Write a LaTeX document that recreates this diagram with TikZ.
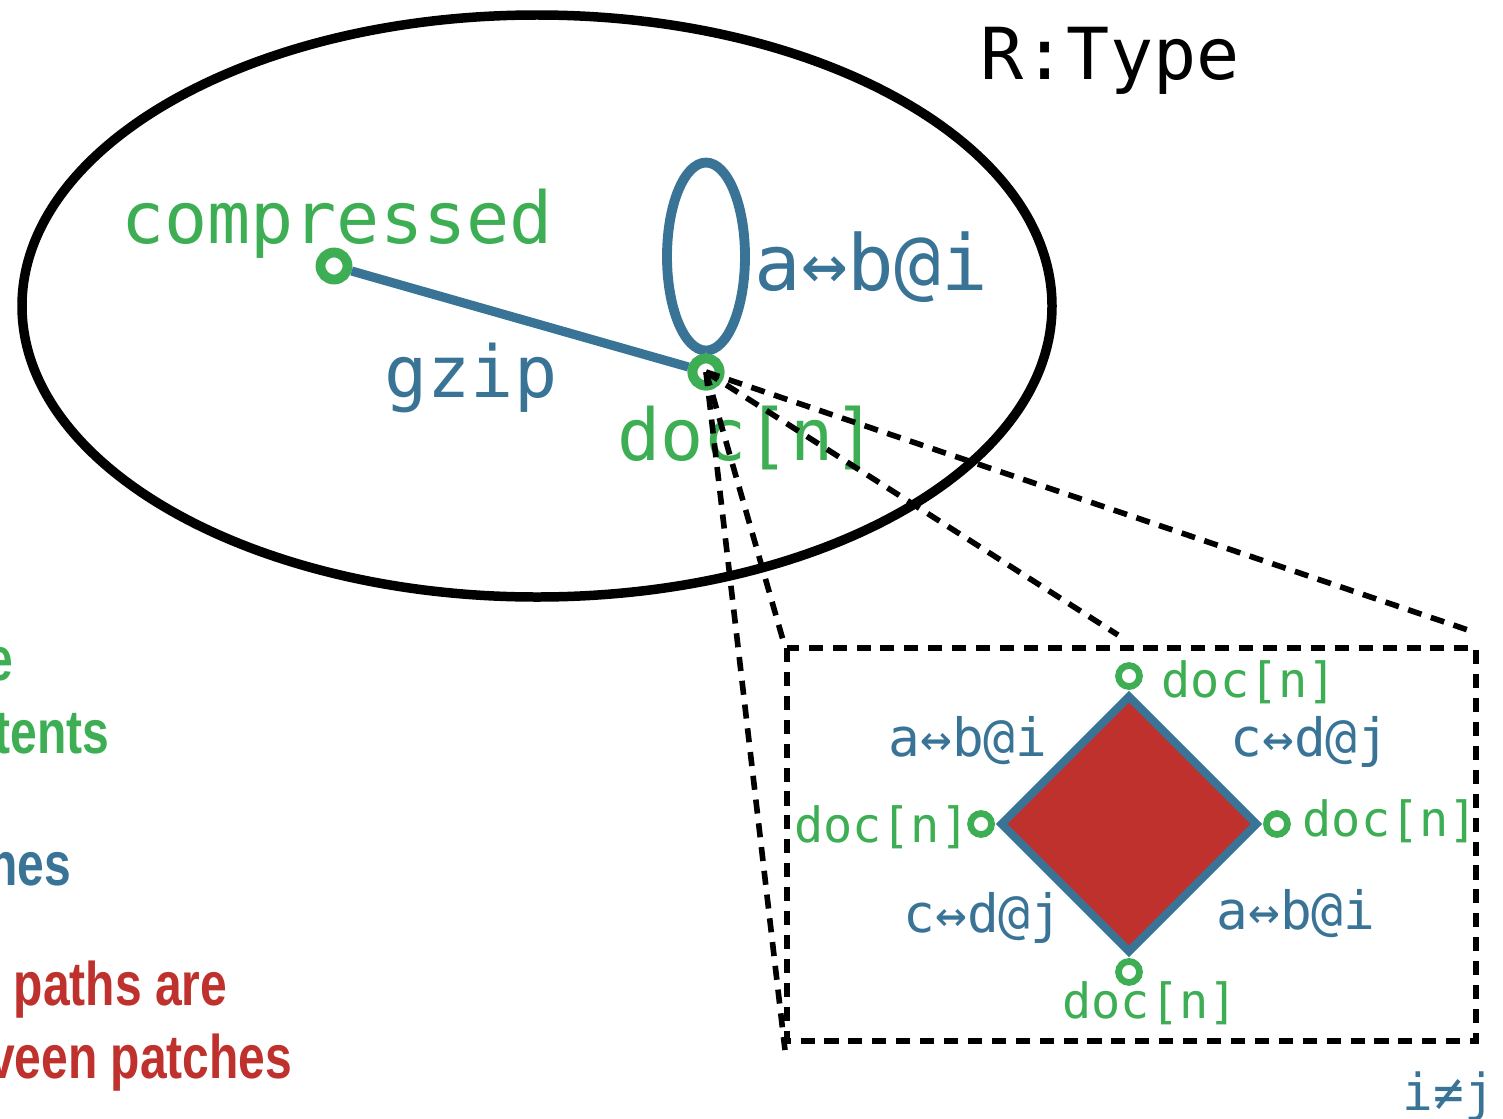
\documentclass[tikz,border=0pt]{standalone}
\usepackage{fontspec}
\newfontfamily\monofont{DejaVu Sans Mono}
\newfontfamily\notefont{Liberation Sans}
\usetikzlibrary{positioning, shapes.geometric}

\definecolor{pgreen}{RGB}{61,174,83}
\definecolor{pblue}{RGB}{57,116,151}
\definecolor{pred}{RGB}{190,49,44}

\tikzset{
    bigport/.style={circle, draw=pgreen, fill=white, line width=2.8pt, inner sep=0pt, minimum size=2.7mm},
    smallport/.style={circle, draw=pgreen, fill=white, line width=1.9pt, inner sep=0pt, minimum size=2.1mm},
    biglabel/.style={font=\monofont\fontsize{20.4}{24}\selectfont, inner sep=0pt},
    smalllabel/.style={font=\monofont\fontsize{13.8}{16}\selectfont, inner sep=0pt},
    pathlabel/.style={font=\monofont\fontsize{15}{18}\selectfont, inner sep=0pt, text=pblue},
    zoomline/.style={line width=1.6pt, dash pattern=on 4pt off 2.8pt},
    note/.style={font=\notefont\bfseries\fontsize{17.5}{21}\selectfont, inner sep=0pt, anchor=base east}
}
\newcommand{\narrow}[1]{\scalebox{0.78}[1]{#1}}

\begin{document}
\begin{tikzpicture}[x=0.01cm, y=-0.01cm]
    \useasboundingbox (0,0) rectangle (1503,1118);
    % --- 上部：类型空间 R:Type ---
    \draw[line width=2.7pt] (537,306) ellipse [x radius=515, y radius=291];
    \node[biglabel, anchor=base] (rtype) at (1110,80) {R:Type};
    % 两个点与 gzip 路径
    \node[bigport] (comp) at (334,266) {};
    \node[bigport] (doc) at (706,372) {};
    \draw[pblue, line width=2.6pt] (comp) -- (doc);
    % 自环 a<->b@i
    \draw[pblue, line width=2.8pt] ([yshift=0.3mm]doc.north) arc[start angle=-90, end angle=270, x radius=39, y radius=-94];
    \node[bigport] at (doc) {};
    \node[biglabel, text=pgreen, anchor=base] (complabel) at (337,243) {compressed};
    \node[biglabel, text=pblue, anchor=base] (gziplabel) at (471,397) {gzip};
    \node[biglabel, text=pblue, anchor=base west, font=\monofont\fontsize{22}{26}\selectfont] (looplabel) at (754,290) {a↔b@i};
    \node[biglabel, text=pgreen, anchor=base] (doclabel) at (747,460) {doc[n]};
    % --- 放大线 ---
    \coordinate (zoomtl) at (783,640);
    \coordinate (zoomtm) at (1118,635);
    \coordinate (zoomtr) at (1468,630);
    \coordinate (zoombl) at (785,1050);
    \foreach \target in {zoomtl, zoomtm, zoomtr, zoombl}
        \draw[zoomline] (doc.center) -- (\target);
    % --- 右下：补丁交换的方块 ---
    \draw[zoomline] (787,648) rectangle (1476,1041);
    \node[diamond, aspect=1, draw=pblue, fill=pred, line width=2.3pt, inner sep=0pt,
          minimum width=2.58cm, minimum height=2.58cm] (patch) at (1129,824) {};
    \node[smallport, above=0.1mm of patch.north] (ptop) {};
    \node[smallport, right=0.1mm of patch.east] (pright) {};
    \node[smallport, below=0.1mm of patch.south] (pbottom) {};
    \node[smallport, left=0.1mm of patch.west] (pleft) {};
    \node[smalllabel, text=pgreen, anchor=base west] (ltop) at (1161,697) {doc[n]};
    \node[smalllabel, text=pgreen, anchor=base west] (lright) at (1302,836) {doc[n]};
    \node[smalllabel, text=pgreen, anchor=base east] (lleft) at (970,842) {doc[n]};
    \node[smalllabel, text=pgreen, anchor=base] (lbottom) at (1150,1018) {doc[n]};
    \node[pathlabel, anchor=base] (abtl) at (968,756) {a↔b@i};
    \node[pathlabel, anchor=base] (cdtr) at (1310,756) {c↔d@j};
    \node[pathlabel, anchor=base] (cdbl) at (983,932) {c↔d@j};
    \node[pathlabel, anchor=base] (abbr) at (1296,929) {a↔b@i};
    \node[pathlabel, anchor=base, font=\monofont\fontsize{14.5}{17}\selectfont] (neq) at (1449,1110) {i≠j};
    % --- 左侧：说明文字 ---
    \node[note, text=pgreen] (note1) at (14,680) {\narrow{e}};
    \node[note, text=pgreen] (note2) at (110,753) {\narrow{tents}};
    \node[note, text=pblue] (note3) at (72,885) {\narrow{nes}};
    \node[note, text=pred] (note4) at (228,1005) {\narrow{paths are}};
    \node[note, text=pred] (note5) at (293,1078) {\narrow{veen patches}};
\end{tikzpicture}
\end{document}
